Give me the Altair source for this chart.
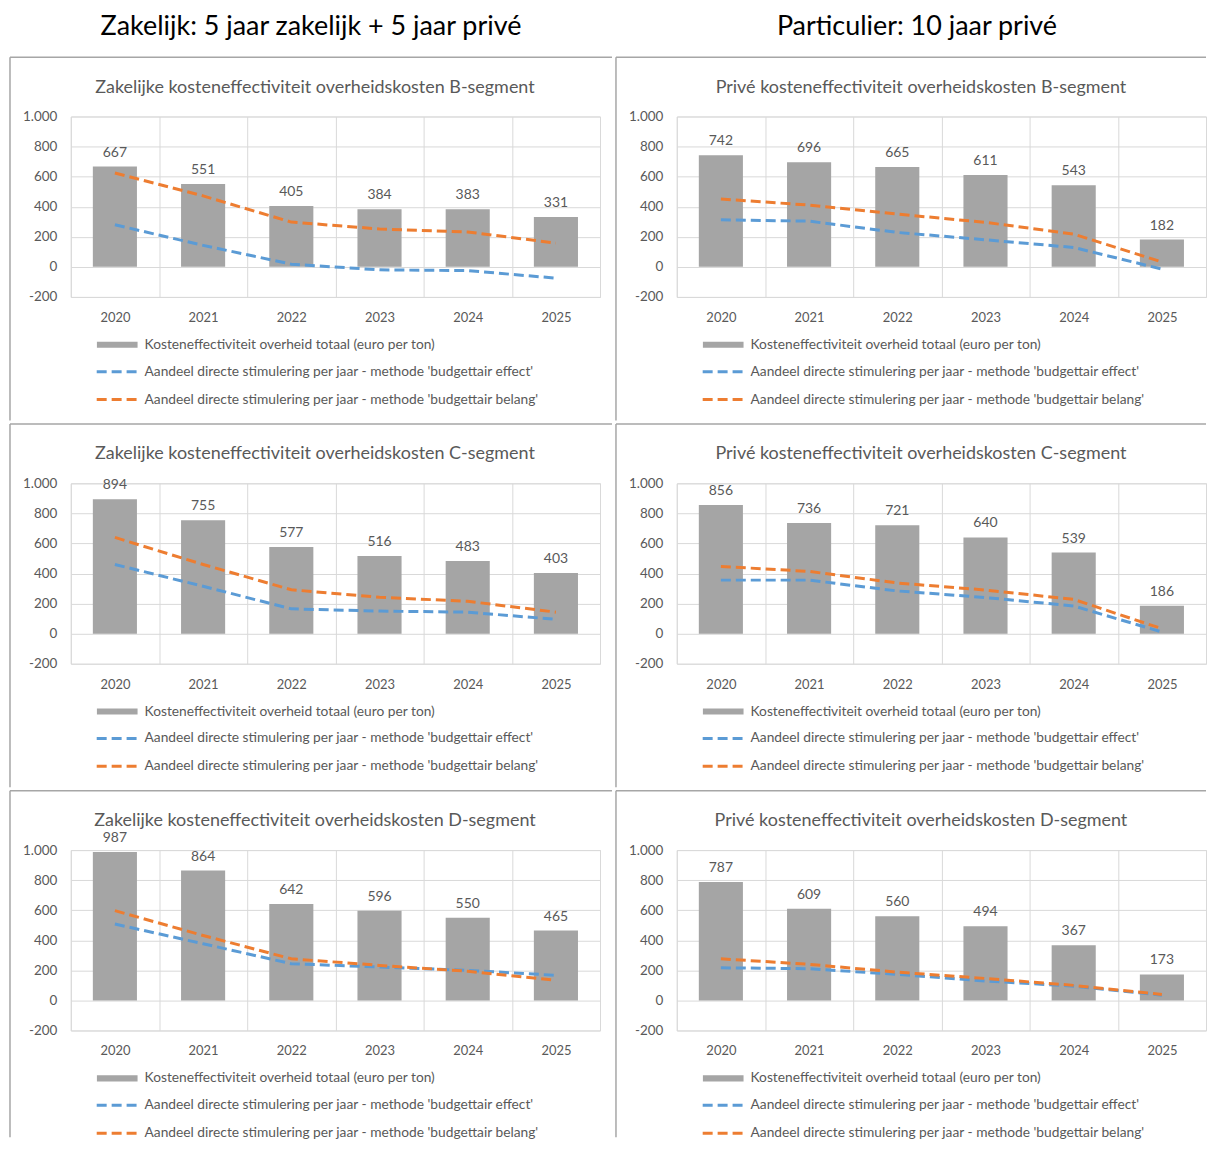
import altair as alt
import pandas as pd

FONT = "Lato"
GRAY_TXT = "#595959"
BORDER = "#a6a6a6"

years = ["2020", "2021", "2022", "2023", "2024", "2025"]

header_zakelijk = "Zakelijk: 5 jaar zakelijk + 5 jaar privé"
header_particulier = "Particulier: 10 jaar privé"

titles_zakelijk = [
    "Zakelijke kosteneffectiviteit overheidskosten B-segment",
    "Zakelijke kosteneffectiviteit overheidskosten C-segment",
    "Zakelijke kosteneffectiviteit overheidskosten D-segment",
]
titles_prive = [
    "Privé kosteneffectiviteit overheidskosten B-segment",
    "Privé kosteneffectiviteit overheidskosten C-segment",
    "Privé kosteneffectiviteit overheidskosten D-segment",
]

label_totaal = "Kosteneffectiviteit overheid totaal (euro per ton)"
label_effect = "Aandeel directe stimulering per jaar - methode 'budgettair effect'"
label_belang = "Aandeel directe stimulering per jaar - methode 'budgettair belang'"

# Zakelijk
zak_B_totaal = [667, 551, 405, 384, 383, 331]
zak_B_effect = [280, 143, 18, -20, -25, -75]
zak_B_belang = [624, 472, 298, 252, 232, 158]

zak_C_totaal = [894, 755, 577, 516, 483, 403]
zak_C_effect = [460, 315, 165, 150, 143, 95]
zak_C_belang = [640, 460, 292, 242, 215, 143]

zak_D_totaal = [987, 864, 642, 596, 550, 465]
zak_D_effect = [508, 377, 244, 222, 200, 167]
zak_D_belang = [597, 432, 277, 233, 194, 134]

# Privé
pri_B_totaal = [742, 696, 665, 611, 543, 182]
pri_B_effect = [313, 304, 229, 180, 129, -15]
pri_B_belang = [451, 411, 351, 296, 218, 33]

pri_C_totaal = [856, 736, 721, 640, 539, 186]
pri_C_effect = [356, 356, 284, 240, 184, 11]
pri_C_belang = [447, 414, 337, 290, 228, 33]

pri_D_totaal = [787, 609, 560, 494, 367, 173]
pri_D_effect = [217, 211, 173, 129, 95, 35]
pri_D_belang = [277, 240, 188, 146, 100, 40]

y_ticks = [-200, 0, 200, 400, 600, 800, 1000]

W, H = 531, 181


def x_enc():
    return alt.X(
        "jaar:N",
        sort=years,
        scale=alt.Scale(paddingInner=0, paddingOuter=0),
        axis=alt.Axis(
            title=None, labelAngle=0, domain=False, ticks=False, tickSize=0,
            grid=True, tickBand="extent", gridColor="#d9d9d9", gridWidth=1,
            labelPadding=14.5, labelColor=GRAY_TXT, labelFontSize=13, labelFont=FONT,
        ),
    )


def y_enc(field):
    return alt.Y(
        f"{field}:Q",
        scale=alt.Scale(domain=[-200, 1000], nice=False, zero=False),
        axis=alt.Axis(
            title=None, values=y_ticks, domain=False, ticks=False, tickSize=0,
            grid=True, gridColor="#d9d9d9", gridWidth=1, labelPadding=14,
            labelColor=GRAY_TXT, labelFontSize=13.5, labelFont=FONT,
            labelExpr="datum.value >= 1000 ? '1.000' : '' + datum.value",
        ),
    )


def one(text):
    return pd.DataFrame({"t": [text]})


def panel(title, totaal, effect, belang, header=None, right_spacer=True,
          bottom_spacer=True):
    df = pd.DataFrame({"jaar": years, "totaal": totaal, "reeks": [label_totaal] * 6})
    long = pd.DataFrame({
        "jaar": years + years,
        "waarde": effect + belang,
        "reeks": [label_effect] * 6 + [label_belang] * 6,
    })

    bars = alt.Chart(df).mark_bar(width=alt.RelativeBandSize(0.5)).encode(
        x=x_enc(),
        y=y_enc("totaal"),
        fill=alt.Fill(
            "reeks:N",
            scale=alt.Scale(domain=[label_totaal], range=["#a5a5a5"]),
            legend=alt.Legend(
                orient="none", legendX=26, legendY=222, title=None,
                symbolType="M-1,-0.15L1,-0.15L1,0.15L-1,0.15Z", symbolSize=1681,
                symbolStrokeWidth=0, labelFont=FONT, labelFontSize=13.8,
                labelColor=GRAY_TXT, labelOffset=7, labelLimit=600,
                clipHeight=14, padding=0,
            ),
        ),
    )
    labels = alt.Chart(df).mark_text(
        baseline="bottom", dy=-7, fontSize=14, color=GRAY_TXT, font=FONT
    ).encode(x=x_enc(), y=y_enc("totaal"), text="totaal:Q")

    lines = alt.Chart(long).mark_line(
        strokeWidth=3, strokeDash=[10, 5], strokeCap="butt"
    ).encode(
        x=x_enc(),
        y=y_enc("waarde"),
        stroke=alt.Stroke(
            "reeks:N",
            sort=[label_effect, label_belang],
            scale=alt.Scale(domain=[label_effect, label_belang],
                            range=["#5b9bd5", "#ed7d31"]),
            legend=alt.Legend(
                orient="none", legendX=24.5, legendY=249, title=None,
                symbolType="stroke", symbolSize=1681, symbolStrokeWidth=3,
                symbolDash=[10, 5], labelFont=FONT, labelFontSize=13.8,
                labelColor=GRAY_TXT, labelOffset=5.5, labelLimit=600,
                clipHeight=14, rowPadding=14, padding=0, direction="vertical",
            ),
        ),
        detail="reeks:N",
    )

    ttl = alt.Chart(one(title)).mark_text(
        fontSize=18, color=GRAY_TXT, font=FONT
    ).encode(x=alt.value(245), y=alt.value(-29), text="t:N")

    left_y2 = 305 if bottom_spacer else 288
    top_x2 = 543 if right_spacer else 531
    top_rule = alt.Chart(one("a")).mark_rule(color=BORDER, strokeWidth=1.5).encode(
        x=alt.value(-61), x2=alt.value(top_x2), y=alt.value(-59.5))
    left_rule = alt.Chart(one("b")).mark_rule(color=BORDER, strokeWidth=1.5).encode(
        x=alt.value(-61), y=alt.value(-59.5), y2=alt.value(left_y2))

    layers = [bars, labels, lines, ttl, top_rule, left_rule]

    if right_spacer:
        layers.append(alt.Chart(one("c")).mark_rule(opacity=0, strokeWidth=0).encode(
            x=alt.value(543), y=alt.value(0), y2=alt.value(10)))
    if bottom_spacer:
        layers.append(alt.Chart(one("d")).mark_rule(opacity=0, strokeWidth=0).encode(
            x=alt.value(0), x2=alt.value(10), y=alt.value(305)))
    if header is not None:
        layers.append(alt.Chart(one(header)).mark_text(
            fontSize=27, color="#000000", font=FONT
        ).encode(x=alt.value(241), y=alt.value(-90), text="t:N"))
        layers.append(alt.Chart(one("e")).mark_rule(opacity=0, strokeWidth=0).encode(
            x=alt.value(0), x2=alt.value(10), y=alt.value(-106)))

    return alt.layer(*layers).properties(width=W, height=H)


zak = [
    (zak_B_totaal, zak_B_effect, zak_B_belang),
    (zak_C_totaal, zak_C_effect, zak_C_belang),
    (zak_D_totaal, zak_D_effect, zak_D_belang),
]
pri = [
    (pri_B_totaal, pri_B_effect, pri_B_belang),
    (pri_C_totaal, pri_C_effect, pri_C_belang),
    (pri_D_totaal, pri_D_effect, pri_D_belang),
]

panels = []
for r in range(3):
    last = r == 2
    panels.append(panel(titles_zakelijk[r], *zak[r],
                        header=header_zakelijk if r == 0 else None,
                        right_spacer=True, bottom_spacer=not last))
    panels.append(panel(titles_prive[r], *pri[r],
                        header=header_particulier if r == 0 else None,
                        right_spacer=False, bottom_spacer=not last))

chart = alt.concat(*panels, columns=2, spacing=0).resolve_scale(
    fill="independent", stroke="independent"
).properties(
    padding={"left": 0, "top": 0, "right": 0, "bottom": 0}
).configure_view(stroke="#d9d9d9", strokeWidth=1).configure(background="white")

chart.save("out.html", embed_options={"renderer": "svg", "actions": False})
